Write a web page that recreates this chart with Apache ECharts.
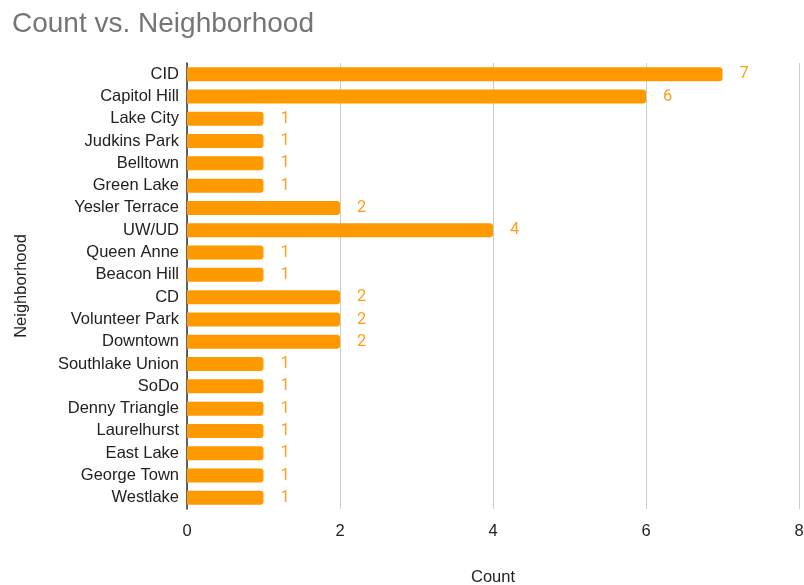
<!DOCTYPE html>
<html>
<head>
<meta charset="utf-8">
<script src="https://cdn.jsdelivr.net/npm/echarts@6/dist/echarts.min.js"></script>
<style>
  html, body { margin: 0; padding: 0; background: #fff; }
  #chart { width: 804px; height: 585px; }
</style>
</head>
<body>
<div id="chart"></div>
<script>
// Neighborhoods, listed top to bottom
const neighborhoods = [
  'CID', 'Capitol Hill', 'Lake City', 'Judkins Park', 'Belltown', 'Green Lake',
  'Yesler Terrace', 'UW/UD', 'Queen Anne', 'Beacon Hill', 'CD', 'Volunteer Park',
  'Downtown', 'Southlake Union', 'SoDo', 'Denny Triangle', 'Laurelhurst',
  'East Lake', 'George Town', 'Westlake'
];
const counts = [7, 6, 1, 1, 1, 1, 2, 4, 1, 1, 2, 2, 2, 1, 1, 1, 1, 1, 1, 1];
const countTicks = [0, 2, 4, 6, 8];

const font = 'Arial, "Liberation Sans", sans-serif';
const chart = echarts.init(document.getElementById('chart'));
chart.setOption({
  animation: false,
  title: {
    text: 'Count vs. Neighborhood',
    left: 7, top: 5,
    textStyle: { fontFamily: font, fontSize: 28, fontWeight: 'normal', color: '#757575' }
  },
  grid: {
    left: 187, right: 5, top: 63, height: 446,
    containLabel: false, outerBoundsMode: 'none'
  },
  xAxis: {
    type: 'value',
    min: countTicks[0],
    max: countTicks[countTicks.length - 1],
    interval: 2,
    name: 'Count',
    nameLocation: 'middle',
    nameGap: 60,
    nameTextStyle: { fontFamily: font, fontSize: 16.5, color: '#222' },
    axisLine: { show: false },
    axisTick: { show: false },
    axisLabel: { fontFamily: font, fontSize: 16.5, color: '#222', margin: 14 },
    splitLine: { show: true, lineStyle: { color: '#cccccc', width: 1 } }
  },
  yAxis: {
    type: 'category',
    data: neighborhoods,
    inverse: true,
    name: 'Neighborhood',
    nameLocation: 'middle',
    nameGap: 157,
    nameTextStyle: { fontFamily: font, fontSize: 16.5, color: '#222' },
    axisLine: { show: true, lineStyle: { color: '#333', width: 1.5 } },
    axisTick: { show: false },
    axisLabel: { fontFamily: font, fontSize: 16.5, color: '#222', margin: 8 }
  },
  series: [{
    type: 'bar',
    data: counts,
    barWidth: 14,
    itemStyle: { color: '#ff9900', borderRadius: [0, 3, 3, 0] },
    label: {
      show: true,
      position: 'right',
      distance: 17,
      fontFamily: 'Roboto, sans-serif',
      fontSize: 16.5,
      color: '#ff9e1a'
    }
  }]
});
</script>
</body>
</html>
